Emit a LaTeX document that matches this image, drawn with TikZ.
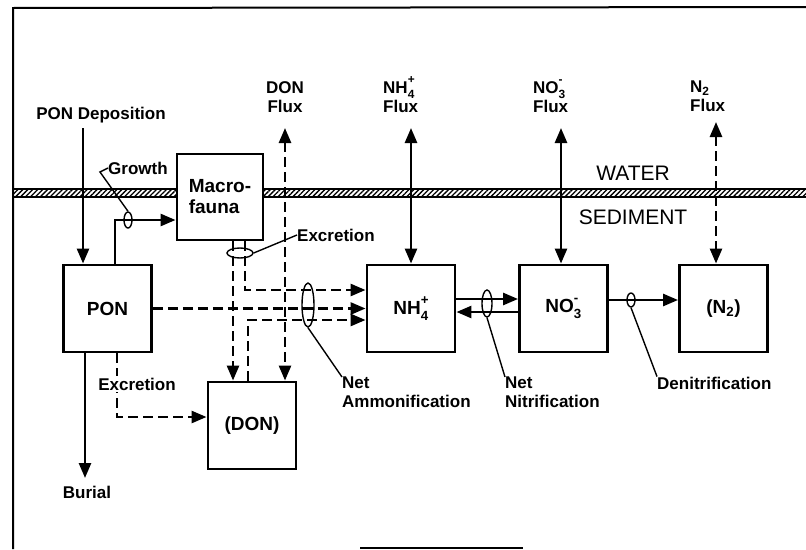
\documentclass[tikz,border=0pt]{standalone}
\usepackage{fontspec}
\setmainfont{Liberation Sans}
\usetikzlibrary{arrows.meta, patterns.meta, shapes.geometric}

\newcommand{\ionf}[3]{#1\rlap{\raisebox{0.2em}{\textsuperscript{#3}}}\raisebox{-0.12em}{\textsubscript{#2}}}

\begin{document}
\begin{tikzpicture}[
        x=1pt, y=-1pt,
        >={Triangle[length=15pt, width=12pt]},
        font=\fontsize{17}{19}\selectfont\bfseries,
        pool/.style={draw, line width=2.9pt, fill=white, minimum width=88pt,
            minimum height=87pt, inner sep=0pt, align=center,
            font=\fontsize{19}{21}\selectfont\bfseries},
        flow/.style={->, line width=2.6pt},
        dashed flow/.style={flow, dash pattern=on 10pt off 5pt},
        ring/.style={draw, ellipse, line width=1.4pt, inner sep=0pt},
        leader/.style={line width=1.4pt},
        tag/.style={inner sep=0pt, align=left},
        layer/.style={font=\fontsize{21}{23}\selectfont, inner sep=0pt},
    ]
    \useasboundingbox (0,0) rectangle (806,549);

    % frame of the page
    \draw[line width=2pt] (13,549) -- (13,8) -- (806,7);
    \draw[line width=1.5pt] (360,548) -- (523,548);

    % water / sediment interface
    \fill[pattern={Lines[angle=45, distance=3.5pt, line width=1.3pt]}]
        (13,189) rectangle (806,197);
    \draw[line width=1.1pt] (13,189) -- (806,189) (13,197) -- (806,197);
    \node[layer] (water) at (633,173) {WATER};
    \node[layer] (sediment) at (633,217) {SEDIMENT};

    % pools
    \node[pool] (pon) at (107.5,308.5) {PON};
    \node[pool, minimum width=86pt, minimum height=86pt, align=left] (macro) at (220,197) {Macro-\\fauna};
    \node[pool] (don) at (252,425.5) {(DON)};
    \node[pool] (nh4) at (411,308.5) {\ionf{NH}{4}{+}};
    \node[pool] (no3) at (563.5,308.5) {\ionf{NO}{3}{-}};
    \node[pool] (n2) at (723.5,308.5) {(N\textsubscript{2})};

    % labels
    \node[tag, align=center, anchor=south] (donlbl) at (285,113) {DON\\Flux};
    \node[tag, anchor=south west] (nh4lbl) at (383,113) {\ionf{NH}{4}{+}\\Flux};
    \node[tag, anchor=south west] (no3lbl) at (533,113) {\ionf{NO}{3}{-}\\Flux};
    \node[tag, anchor=south west] (n2lbl) at (690,112) {N\textsubscript{2}\\Flux};
    \node[tag] (deplbl) at (101,115) {PON Deposition};
    \node[tag] (burlbl) at (87,492) {Burial};
    \node[tag, anchor=west] (growlbl) at (108,168) {Growth};
    \node[tag, anchor=west] (mexclbl) at (297,235) {Excretion};
    \node[tag, anchor=north west] (ammlbl) at (342,377) {Net\\Ammonification};
    \node[tag, anchor=north west] (nitlbl) at (505,377) {Net\\Nitrification};
    \node[tag, anchor=west] (denlbl) at (657,383) {Denitrification};

    \coordinate (depTip) at (83,128);
    \coordinate (burTip) at (85,478);
    \coordinate (donTip) at (285,128);
    \coordinate (nh4Tip) at (411,128);
    \coordinate (no3Tip) at (561,128);
    \coordinate (n2Tip) at (716,122);

    % deposition, burial, growth
    \draw[flow] (depTip) -- (depTip |- pon.north);
    \draw[flow] (burTip |- pon.south) -- (burTip);
    \draw[flow] ([xshift=7.5pt]pon.north) |- ([yshift=-23pt]macro.west);

    % fluxes across the interface
    \draw[dashed flow, <->] (donTip) -- (donTip |- don.north);
    \draw[flow, <->] (nh4Tip) -- (nh4Tip |- nh4.north);
    \draw[flow, <->] (no3Tip) -- (no3Tip |- no3.north);
    \draw[dashed flow, <->] (n2Tip) -- (n2Tip |- n2.north);

    % excretion and ammonification
    \draw[dashed flow] ([xshift=25pt]macro.south) |- ([yshift=18.5pt]nh4.west);
    \draw[dashed flow] ([xshift=13pt]macro.south) -- ([xshift=13pt]macro.south |- don.north);
    \draw[dashed flow] (pon.east) -- (nh4.west);
    \draw[dashed flow] ([xshift=-4pt]don.north) |- ([yshift=-11.5pt]nh4.west);
    \draw[dashed flow] ([xshift=9.5pt]pon.south) |- ([yshift=8.5pt]don.west);
    \node[tag, fill=white, inner sep=2pt] (pexclbl) at (137,384) {Excretion};

    % nitrification, denitrification
    \draw[flow] ([yshift=9.5pt]nh4.east) -- ([yshift=9.5pt]no3.west);
    \draw[flow] ([yshift=-3.5pt]no3.west) -- ([yshift=-3.5pt]nh4.east);
    \draw[flow] ([yshift=8.5pt]no3.east) -- ([yshift=8.5pt]n2.west);

    % process rings and their leaders
    \node[ring, minimum width=8pt, minimum height=16pt] (growRing) at (128,220) {};
    \node[ring, minimum width=26pt, minimum height=10pt] (mexRing) at (240,253) {};
    \node[ring, minimum width=12pt, minimum height=44pt] (ammRing) at (308,305) {};
    \node[ring, minimum width=10pt, minimum height=27pt] (nitRing) at (487,303.5) {};
    \node[ring, minimum width=8pt, minimum height=14pt] (denRing) at (631,300) {};

    \draw[leader] (growRing.north) -- (100,172) -- (growlbl.west);
    \draw[leader] (mexRing.east) -- (mexclbl.west);
    \draw[leader] (ammRing.south) -- (ammlbl.north west);
    \draw[leader] (nitRing.south) -- (nitlbl.north west);
    \draw[leader] (denRing.south) -- (denlbl.north west);
\end{tikzpicture}
\end{document}
